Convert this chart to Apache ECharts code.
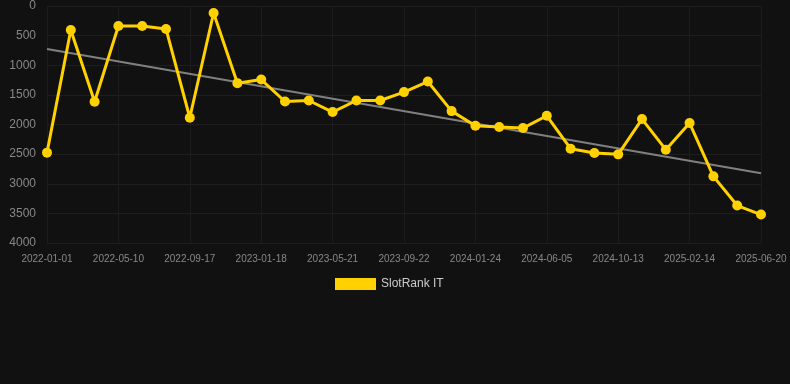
<!DOCTYPE html>
<html>
<head>
<meta charset="utf-8">
<script src="https://cdn.jsdelivr.net/npm/echarts@6/dist/echarts.min.js"></script>
<style>
  html, body { margin: 0; padding: 0; background: #111111; }
  #chart { width: 790px; height: 384px; }
</style>
</head>
<body>
<div id="chart"></div>
<script>
  var dates = [
    '2022-01-01', '2022-02-13', '2022-03-28', '2022-05-10', '2022-06-22', '2022-08-04',
    '2022-09-17', '2022-10-28', '2022-12-08', '2023-01-18', '2023-02-28', '2023-04-10',
    '2023-05-21', '2023-07-01', '2023-08-11', '2023-09-22', '2023-11-02', '2023-12-13',
    '2024-01-24', '2024-03-08', '2024-04-22', '2024-06-05', '2024-07-18', '2024-08-30',
    '2024-10-13', '2024-11-23', '2025-01-03', '2025-02-14', '2025-03-28', '2025-05-09',
    '2025-06-20'
  ];
  var ranks = [
    2475, 404, 1617, 337, 337, 387,
    1886, 118, 1302, 1241, 1612, 1595,
    1790, 1595, 1595, 1453, 1275, 1774,
    2021, 2043, 2060, 1853, 2408, 2481,
    2504, 1908, 2425, 1976, 2875, 3368,
    3520
  ];
  // trend line end values (first and last date)
  var trendEnds = [724, 2824];
  var yTicks = { min: 0, max: 4000, step: 500 };

  var chart = echarts.init(document.getElementById('chart'));
  var font = 'Arial, "Liberation Sans", sans-serif';

  var option = {
    backgroundColor: '#111111',
    animation: false,
    textStyle: { fontFamily: font },
    grid: { left: 47, right: 29, top: 6, bottom: 141, containLabel: false },
    legend: {
      data: ['SlotRank IT'],
      top: 273,
      left: 330,
      icon: 'rect',
      itemWidth: 41,
      itemHeight: 12,
      textStyle: { color: '#cccccc', fontSize: 12, fontFamily: font }
    },
    xAxis: {
      type: 'category',
      data: dates,
      boundaryGap: false,
      axisLine: { show: false },
      axisTick: { show: true, interval: 2, length: 8, lineStyle: { color: '#1c1c1c' } },
      axisLabel: { interval: 2, color: '#888888', fontSize: 10, margin: 11 },
      splitLine: { show: true, interval: 2, lineStyle: { color: '#1c1c1c', width: 1 } }
    },
    yAxis: {
      type: 'value',
      inverse: true,
      min: yTicks.min,
      max: yTicks.max,
      interval: yTicks.step,
      axisLine: { show: false },
      axisTick: { show: false },
      axisLabel: {
        color: '#888888',
        fontSize: 12,
        margin: 11,
        formatter: function (v) { return String(v); }
      },
      splitLine: { lineStyle: { color: '#1e1e1e', width: 1 } }
    },
    series: [
      {
        name: 'SlotRank IT',
        type: 'line',
        data: ranks,
        symbol: 'circle',
        symbolSize: 10,
        lineStyle: { color: '#FFD100', width: 3 },
        itemStyle: { color: '#FFD100' },
        z: 3
      },
      {
        name: 'trend',
        type: 'line',
        data: [[dates[0], trendEnds[0]], [dates[dates.length - 1], trendEnds[1]]],
        symbol: 'none',
        silent: true,
        lineStyle: { color: '#808080', width: 2 },
        itemStyle: { color: '#808080' },
        z: 2
      }
    ]
  };

  chart.setOption(option);
</script>
</body>
</html>
